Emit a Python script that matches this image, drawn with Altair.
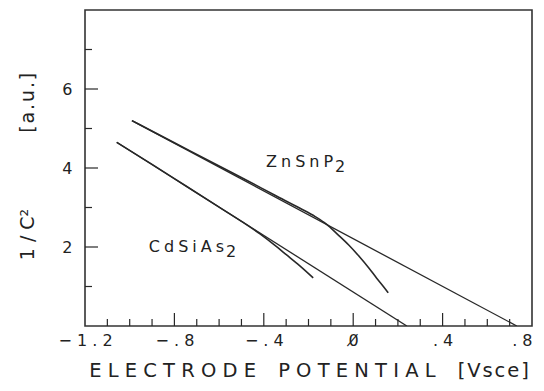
import unicodedata
import altair as alt
import pandas as pd

# ---------------- data ----------------
zn_x = [-0.99, -0.8, -0.6, -0.477, -0.35, -0.238, -0.17, -0.12, -0.07, -0.02, 0.03, 0.07, 0.105, 0.135, 0.157]
zn_y = [5.20, 4.64, 4.05, 3.69, 3.31, 2.98, 2.77, 2.58, 2.32, 2.05, 1.74, 1.47, 1.21, 1.00, 0.84]
zn_fit_x = [-0.99, 0.732]
zn_fit_y = [5.20, 0.0]

cd_x = [-1.058, -0.9, -0.75, -0.6, -0.5, -0.417, -0.35, -0.298, -0.24, -0.179]
cd_y = [4.65, 4.09, 3.55, 3.01, 2.65, 2.33, 2.04, 1.80, 1.53, 1.22]
cd_fit_x = [-1.058, 0.24]
cd_fit_y = [4.65, 0.0]

x_tick_values = [-1.2, -0.8, -0.4, 0.0, 0.4, 0.8]
x_tick_labels = ["\u22121.2", "\u2212.8", "\u2212.4", "0\u0338", ".4", ".8"]
x_minor_ticks = [-1.1, -1.0, -0.9, -0.7, -0.6, -0.5, -0.3, -0.2, -0.1, 0.1, 0.2, 0.3, 0.5, 0.6, 0.7]
x_major_ticks = [-0.8, -0.4, 0.0, 0.4]

y_tick_values = [2, 4, 6]
y_tick_labels = ["2", "4", "6"]
y_minor_ticks = [1, 3, 5, 7]
y_major_ticks = [2, 4, 6]

ann_main = ["ZnSnP", "CdSiAs"]
ann_sub = ["2", "2"]
ann_x = [-0.09, -0.578]
ann_y = [4.02, 1.88]

X_TITLE = "ELECTRODE POTENTIAL"
X_UNIT = "[Vsce]"
Y_TITLE = "1/C"
Y_UNIT = "[a.u.]"

# ---------------- helpers ----------------
def spread(s, sep=" ", word=" \u2002 "):
    glyphs = []
    for ch in s:
        if glyphs and unicodedata.combining(ch):
            glyphs[-1] += ch
        else:
            glyphs.append(ch)
    out = ""
    for i, g in enumerate(glyphs):
        if g == " ":
            out += word
            continue
        if i > 0 and glyphs[i - 1] != " ":
            out += sep
        out += g
    return out


def label_expr(values, labels):
    e = "''"
    for v, l in reversed(list(zip(values, labels))):
        e = f"abs(datum.value - ({v})) < 0.001 ? '{l}' : {e}"
    return e


FONT = "DejaVu Sans"
INK = "#222222"
LINE = "#282828"
W, H = 447, 316

x_title = spread(X_TITLE, " ") + " \u2002 " + spread(X_UNIT, "\u200a")
y_title = spread(Y_TITLE, " ") + "\u00b2" + "\u2003" * 4 + spread(Y_UNIT, "\u200a")

xs = alt.Scale(domain=[-1.2, 0.8], nice=False, zero=False)
ys = alt.Scale(domain=[0, 8], nice=False, zero=False)

xaxis = alt.Axis(
    values=x_tick_values,
    labelExpr=label_expr(x_tick_values, [spread(l, " ") for l in x_tick_labels]),
    ticks=False, domain=False, grid=False,
    labelFont=FONT, labelFontSize=16, labelColor=INK, labelPadding=6,
    labelFlush=False, labelOverlap=False,
    labelAlign=alt.condition("datum.value > 0.7", alt.value("right"), alt.value("center")),
    title=x_title, titleFont=FONT, titleFontSize=19.5, titleFontWeight="normal",
    titleColor=INK, titleY=50, titleBaseline="alphabetic", titleLimit=1000,
)
yaxis = alt.Axis(
    values=y_tick_values,
    labelExpr=label_expr(y_tick_values, y_tick_labels),
    ticks=False, domain=False, grid=False,
    labelFont=FONT, labelFontSize=16, labelColor=INK, labelPadding=13,
    labelOverlap=False,
    title=y_title, titleFont=FONT, titleFontSize=19, titleFontWeight="normal",
    titleColor=INK, titleX=-52, titleY=156, titleAngle=270,
    titleAlign="center", titleBaseline="alphabetic", titleLimit=1000,
)

X = alt.X("x:Q", scale=xs, axis=xaxis)
Y = alt.Y("y:Q", scale=ys, axis=yaxis)


def frame(names, xs_list, ys_list):
    rows = []
    for name, a_list, b_list in zip(names, xs_list, ys_list):
        for i, (a, b) in enumerate(zip(a_list, b_list)):
            rows.append({"x": a, "y": b, "s": name, "o": i})
    return pd.DataFrame(rows)


data_df = frame(["zn", "cd"], [zn_x, cd_x], [zn_y, cd_y])
fit_df = frame(["znfit", "cdfit"], [zn_fit_x, cd_fit_x], [zn_fit_y, cd_fit_y])

data_lines = alt.Chart(data_df).mark_line(
    color=LINE, strokeWidth=1.6, clip=True, interpolate="monotone"
).encode(x=X, y=Y, detail="s:N", order="o:Q")

fit_lines = alt.Chart(fit_df).mark_line(
    color=LINE, strokeWidth=1.3, clip=True
).encode(x=X, y=Y, detail="s:N", order="o:Q")


def xticks(vals, length):
    return alt.Chart(pd.DataFrame({"x": vals})).mark_rule(color=LINE, strokeWidth=1.2).encode(
        x=X, y=alt.value(H), y2=alt.value(H - length))


def yticks(vals, length):
    return alt.Chart(pd.DataFrame({"y": vals})).mark_rule(color=LINE, strokeWidth=1.2).encode(
        y=Y, x=alt.value(0), x2=alt.value(length))


ann_df = pd.DataFrame({
    "x": ann_x, "y": ann_y,
    "t": [spread(t, "\u2005") for t in ann_main],
    "sub": ann_sub,
})
ann_main_layer = alt.Chart(ann_df).mark_text(
    align="right", baseline="alphabetic", font=FONT, fontSize=16, color=INK
).encode(x=X, y=Y, text="t:N")
ann_sub_layer = alt.Chart(ann_df).mark_text(
    align="left", baseline="alphabetic", font=FONT, fontSize=16, color=INK, dx=2, dy=5
).encode(x=X, y=Y, text="sub:N")

chart = alt.layer(
    data_lines, fit_lines,
    xticks(x_minor_ticks, 7), xticks(x_major_ticks, 13),
    yticks(y_minor_ticks, 7), yticks(y_major_ticks, 13),
    ann_main_layer, ann_sub_layer,
).properties(
    width=W, height=H,
    autosize=alt.AutoSizeParams(type="none"),
    padding={"left": 77, "top": 2, "right": 4, "bottom": 57},
    background="white",
).configure_view(stroke="#333333", strokeWidth=1.6)

chart.save("out.html", embed_options={"renderer": "svg", "actions": False})
